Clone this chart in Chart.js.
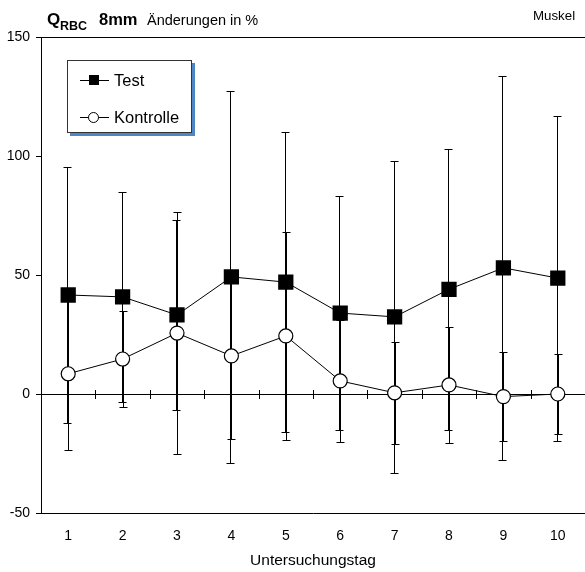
<!DOCTYPE html>
<html>
<head>
<meta charset="utf-8">
<script src="https://cdn.jsdelivr.net/npm/chart.js@4"></script>
<style>
  html, body { margin: 0; padding: 0; background: #fff; }
  #wrap { position: relative; width: 585px; height: 572px; }
</style>
</head>
<body>
<div id="wrap"><canvas id="chart" width="585" height="572"></canvas></div>
<script>
const days = ['1', '2', '3', '4', '5', '6', '7', '8', '9', '10'];
const testMean = [41.6, 40.8, 33.2, 49.2, 47, 34, 32.4, 44, 53, 48.7];
const testSD = [53.8, 44.2, 40, 78, 63, 49, 65.6, 59, 80.6, 68.3];
const kontrolleMean = [8.5, 14.7, 25.6, 16, 24.4, 5.5, 0.5, 3.8, -1.1, 0];
const kontrolleSD = [32, 20, 50.8, 35, 43.7, 25.5, 21.5, 24.4, 18.7, 17];
const yTicks = [-50, 0, 50, 100, 150];

const FONT = 'Arial, "Liberation Sans", sans-serif';

// whiskers drawn under the markers
const errorBars = {
  id: 'errorBars',
  beforeDatasetsDraw(chart) {
    const ctx = chart.ctx;
    const x = chart.scales.x, y = chart.scales.y;
    const sets = [[testMean, testSD, -0.5], [kontrolleMean, kontrolleSD, 0.5]];
    ctx.save();
    ctx.strokeStyle = '#000';
    ctx.lineWidth = 1;
    sets.forEach(([m, sd, off]) => {
      m.forEach((v, i) => {
        const px = Math.round(x.getPixelForValue(i)) + off;
        const top = Math.round(y.getPixelForValue(v + sd[i])) + 0.5;
        const bot = Math.round(y.getPixelForValue(v - sd[i])) + 0.5;
        ctx.beginPath();
        ctx.moveTo(px, top); ctx.lineTo(px, bot);
        ctx.moveTo(px - 4, top); ctx.lineTo(px + 4, top);
        ctx.moveTo(px - 4, bot); ctx.lineTo(px + 4, bot);
        ctx.stroke();
      });
    });
    ctx.restore();
  }
};

// zero line with day separators, top frame line
const frame = {
  id: 'frame',
  beforeDatasetsDraw(chart) {
    const ctx = chart.ctx, a = chart.chartArea;
    const x = chart.scales.x, y = chart.scales.y;
    const y0 = Math.round(y.getPixelForValue(0)) + 0.5;
    ctx.save();
    ctx.strokeStyle = '#000';
    ctx.lineWidth = 1;
    ctx.beginPath();
    ctx.moveTo(a.left, y0); ctx.lineTo(a.right, y0);
    for (let i = 0; i < days.length - 1; i++) {
      const bx = Math.round((x.getPixelForValue(i) + x.getPixelForValue(i + 1)) / 2) + 0.5;
      ctx.moveTo(bx, y0 - 4.5); ctx.lineTo(bx, y0 + 4.5);
    }
    const yt = Math.round(a.top) + 0.5;
    ctx.moveTo(a.left, yt); ctx.lineTo(a.right, yt);
    ctx.stroke();
    ctx.restore();
  }
};

const legendAndTitle = {
  id: 'legendAndTitle',
  afterDraw(chart) {
    const ctx = chart.ctx;
    ctx.save();
    // legend box with blue shadow
    ctx.fillStyle = '#4f86c6';
    ctx.fillRect(70, 63, 125, 73);
    ctx.fillStyle = '#fff';
    ctx.fillRect(67, 60, 125, 73);
    ctx.strokeStyle = '#333';
    ctx.lineWidth = 1;
    ctx.strokeRect(67.5, 60.5, 124, 72);

    ctx.strokeStyle = '#000';
    ctx.beginPath();
    ctx.moveTo(80, 80.5); ctx.lineTo(109, 80.5);
    ctx.moveTo(80, 117.5); ctx.lineTo(109, 117.5);
    ctx.stroke();
    ctx.fillStyle = '#000';
    ctx.fillRect(89, 75, 10, 10);
    ctx.beginPath();
    ctx.arc(93.5, 117.5, 5, 0, Math.PI * 2);
    ctx.fillStyle = '#fff';
    ctx.fill();
    ctx.stroke();

    ctx.fillStyle = '#000';
    ctx.textBaseline = 'middle';
    ctx.textAlign = 'left';
    ctx.font = '16.5px ' + FONT;
    ctx.fillText('Test', 114, 81);
    ctx.fillText('Kontrolle', 114, 118);

    // title line
    ctx.textBaseline = 'alphabetic';
    ctx.font = 'bold 17px ' + FONT;
    ctx.fillText('Q', 47, 24.5);
    ctx.font = 'bold 12.5px ' + FONT;
    ctx.fillText('RBC', 60, 29.5);
    ctx.font = 'bold 16.5px ' + FONT;
    ctx.fillText('8mm', 99, 24.5);
    ctx.font = '14.5px ' + FONT;
    ctx.fillText('Änderungen in %', 147, 24.5);
    ctx.font = '13.3px ' + FONT;
    ctx.fillText('Muskel', 533, 20);
    ctx.restore();
  }
};

new Chart(document.getElementById('chart'), {
  type: 'line',
  data: {
    labels: days,
    datasets: [
      {
        label: 'Test',
        data: testMean,
        borderColor: '#000',
        borderWidth: 1,
        pointStyle: 'rect',
        pointRadius: 10.8,
        pointBorderWidth: 0,
        pointBackgroundColor: '#000',
        pointBorderColor: '#000'
      },
      {
        label: 'Kontrolle',
        data: kontrolleMean,
        borderColor: '#000',
        borderWidth: 1,
        pointStyle: 'circle',
        pointRadius: 7,
        pointBorderWidth: 1.2,
        pointBackgroundColor: '#fff',
        pointBorderColor: '#000'
      }
    ]
  },
  options: {
    responsive: false,
    animation: false,
    layout: { autoPadding: false, padding: { top: 37, right: 0, left: 0, bottom: 0 } },
    plugins: { legend: { display: false }, tooltip: { enabled: false } },
    scales: {
      x: {
        type: 'category',
        offset: true,
        grid: { display: false, drawTicks: false },
        border: { color: '#000', width: 1 },
        ticks: { color: '#000', font: { family: FONT, size: 14 }, padding: 15, maxRotation: 0 },
        title: {
          display: true,
          text: 'Untersuchungstag',
          color: '#000',
          font: { family: FONT, size: 15.5 },
          padding: { top: 0, bottom: 2 }
        },
        afterFit(s) { s.height = 59; s.paddingLeft = 0; s.paddingRight = 0; }
      },
      y: {
        min: -50,
        max: 150,
        afterBuildTicks(s) { s.ticks = yTicks.map(v => ({ value: v })); },
        grid: { drawOnChartArea: false, drawTicks: true, tickLength: 5, color: '#000' },
        border: { color: '#000', width: 1 },
        ticks: { color: '#000', font: { family: FONT, size: 14 }, padding: 6 },
        afterFit(s) { s.width = 41; }
      }
    }
  },
  plugins: [frame, errorBars, legendAndTitle]
});
</script>
</body>
</html>
